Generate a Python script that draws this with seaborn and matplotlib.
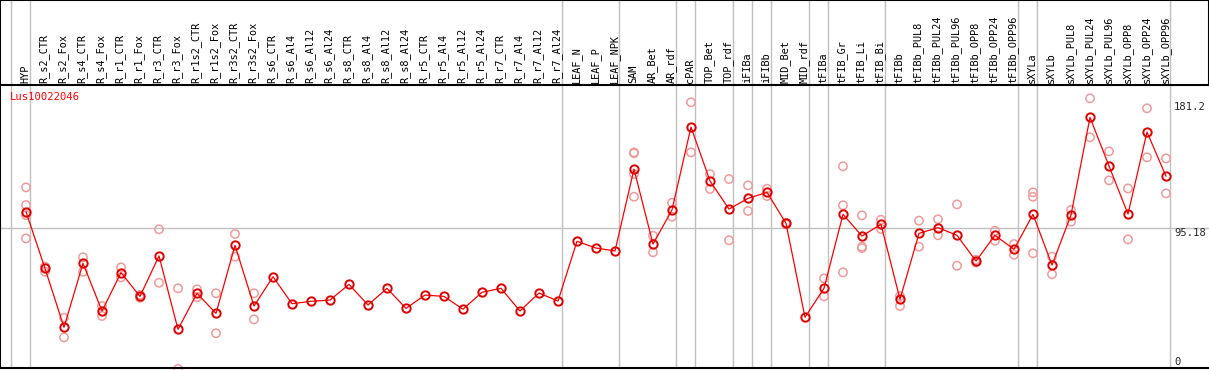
import matplotlib
matplotlib.use('Agg')
import matplotlib.pyplot as plt
import seaborn as sns
import numpy as np
import pandas as pd

# sample names along the top, in plot order
samples = ['HYP', 'R_s2_CTR', 'R_s2_Fox', 'R_s4_CTR', 'R_s4_Fox', 'R_r1_CTR', 'R_r1_Fox',
           'R_r3_CTR', 'R_r3_Fox', 'R_r1s2_CTR', 'R_r1s2_Fox', 'R_r3s2_CTR', 'R_r3s2_Fox',
           'R_s6_CTR', 'R_s6_Al4', 'R_s6_Al12', 'R_s6_Al24', 'R_s8_CTR', 'R_s8_Al4',
           'R_s8_Al12', 'R_s8_Al24', 'R_r5_CTR', 'R_r5_Al4', 'R_r5_Al12', 'R_r5_Al24',
           'R_r7_CTR', 'R_r7_Al4', 'R_r7_Al12', 'R_r7_Al24', 'LEAF_N', 'LEAF_P', 'LEAF_NPK',
           'SAM', 'AR_Bet', 'AR_rdf', 'cPAR', 'TOP_Bet', 'TOP_rdf', 'iFIBa', 'iFIBb',
           'MID_Bet', 'MID_rdf', 'tFIBa', 'tFIB_Gr', 'tFIB_Li', 'tFIB_Bi', 'tFIBb',
           'tFIBb_PUL8', 'tFIBb_PUL24', 'tFIBb_PUL96', 'tFIBb_OPP8', 'tFIBb_OPP24',
           'tFIBb_OPP96', 'sXYLa', 'sXYLb', 'sXYLb_PUL8', 'sXYLb_PUL24', 'sXYLb_PUL96',
           'sXYLb_OPP8', 'sXYLb_OPP24', 'sXYLb_OPP96']

# mean expression per sample
means = [106.3, 67.6, 27.4, 71.1, 38.5, 64.7, 48.5, 76.1, 26.0, 50.6, 36.9, 83.3, 41.9,
         61.9, 43.5, 45.1, 46.0, 56.7, 42.6, 54.0, 40.3, 49.4, 48.5, 39.7, 51.3,
         54.0, 38.5, 50.8, 45.3, 86.1, 81.5, 79.5,
         135.4, 84.2, 107.5, 164.1, 127.3, 108.1, 115.4, 119.5,
         98.4, 34.2, 54.0, 104.5, 89.7, 97.7, 46.5,
         91.5, 95.4, 90.2, 72.6, 90.2, 80.6, 104.5, 69.9,
         104.0, 170.7, 137.5, 104.7, 160.7, 130.5]

# single replicates (empty where none are drawn)
replicates = [[122.9, 110.9, 104.0, 88.1], [68.8, 65.3], [33.9, 20.5], [75.2, 65.3],
              [41.9, 35.1], [68.3, 61.5], [49.5, 47.5], [94.3, 57.8], [54.0, -1.0],
              [53.3, 47.9], [50.6, 23.3], [91.1, 75.6], [50.6, 32.8],
              [], [], [], [], [], [], [], [], [], [], [], [], [], [], [], [], [], [], [],
              [146.8, 146.2, 132.0, 116.5], [89.9, 78.6], [112.4, 102.9], [181.0, 146.8],
              [132.0, 121.8], [128.6, 86.8], [124.3, 106.8], [122.0, 117.0],
              [98.8, 97.7], [], [60.8, 48.5], [137.3, 110.7, 64.9], [103.8, 82.4, 81.5],
              [100.8, 94.5], [48.7, 41.9],
              [100.2, 82.4], [101.1, 90.2], [111.3, 69.4], [73.5, 71.7], [93.3, 86.5],
              [84.2, 76.9], [119.5, 116.5, 77.9], [75.6, 63.6],
              [107.5, 99.5], [183.7, 157.1], [147.5, 127.7], [122.2, 87.4],
              [176.9, 143.4], [142.7, 118.8]]

# how many samples sit in each grey-separated block
group_sizes = [1, 28, 3, 3, 1, 2, 1, 1, 2, 1, 3, 7, 1, 7]

gene = 'Lus10022046'
ref_lines = [181.2, 95.18, 0]

sns.set_style('white')
plt.rcParams['font.family'] = ['DejaVu Sans Mono']

df = pd.DataFrame({'pos': np.arange(len(samples)), 'sample': samples, 'value': means})
rep = pd.DataFrame([(i, v) for i, vals in enumerate(replicates) for v in vals],
                   columns=['pos', 'value'])

W, H = 1209, 370
fig = plt.figure(figsize=(W / 100, H / 100), dpi=100)
top_px, bot_px = 85, 368
ax_head = fig.add_axes([0, 1 - top_px / H, 1, top_px / H])
ax = fig.add_axes([0, (H - bot_px) / H, 1, (bot_px - top_px) / H])

# pixel position of sample i is 26 + 19*i
xlim = (-26 / 19, (W - 26) / 19)
for a in (ax, ax_head):
    a.set_xlim(*xlim)
    a.set_xticks([])
    a.set_yticks([])

ax.set_ylim(-0.4, 192.8)
ax_head.set_ylim(0, 1)

# group separators
bounds = np.concatenate([[-1], np.cumsum(group_sizes) - 1]) + 4 / 19
for b in bounds:
    ax.axvline(b, color='#c0c0c0', lw=1, zorder=0)
    ax_head.axvline(b, color='#c0c0c0', lw=1, zorder=0)
ax.axhline(ref_lines[1], color='#c0c0c0', lw=1, zorder=0)

sns.scatterplot(data=rep, x='pos', y='value', ax=ax, marker='o', s=36,
                facecolors='none', edgecolor='#f29a9a', linewidth=1.1, zorder=2,
                legend=False, clip_on=False)
sns.lineplot(data=df, x='pos', y='value', ax=ax, color='#ff0000', lw=0.9,
             marker='o', markersize=6, markerfacecolor='none', markeredgecolor='#e00000',
             markeredgewidth=1.4, zorder=3)
ax.set_xlabel('')
ax.set_ylabel('')
ax.set_xlim(*xlim)
ax.set_ylim(-0.4, 192.8)

for i, s in enumerate(samples):
    ax_head.text(i - 1 / 19, 0.025, s, rotation=90, ha='center', va='bottom',
                 fontsize=7.4, color='k')

ax.text(10 / W, 0.975, gene, transform=ax.transAxes, ha='left', va='top',
        fontsize=7.6, color='#ff0000')
label_x = (1174 - 26) / 19
ax.text(label_x, ref_lines[0], '181.2', ha='left', va='top', fontsize=7.6)
ax.text(label_x, ref_lines[1], '95.18', ha='left', va='top', fontsize=7.6)
ax.text(label_x, 0.6, '0', ha='left', va='bottom', fontsize=7.6)

for a in (ax, ax_head):
    for sp in a.spines.values():
        sp.set_color('k')
        sp.set_linewidth(1.5)
ax.spines['right'].set_visible(False)
ax_head.spines['bottom'].set_visible(False)

fig.savefig('out.png', dpi=100)
